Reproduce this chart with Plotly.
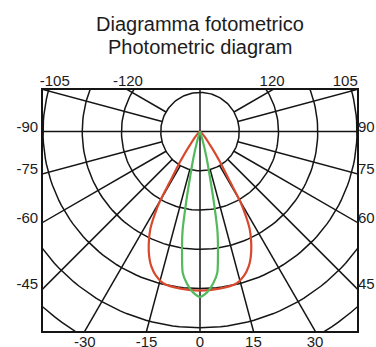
import numpy as np
import plotly.graph_objects as go

# candela grid: ring values and spoke angles (deg from nadir)
rings = [1, 2, 3, 4, 5, 6, 7]
spokes = [-120, -105, -75, -60, -45, -30, -15, 15, 30, 45, 60, 75, 105, 120]
through_lines = [0, 90, 180, 270]

# red plane (half curve, symmetric)
red_angle = [0, 7, 13.5, 17, 20, 22, 24.5, 27, 28.5, 30, 31, 33.5, 37, 40]
red_value = [4.05, 4.03, 3.98, 3.84, 3.64, 3.45, 3.15, 2.79, 2.45, 2.03, 1.47, 0.92, 0.42, 0]

# green plane (half curve, symmetric)
green_angle = [0, 2.5, 5, 7, 8.5, 10, 11, 12, 14, 16, 18]
green_value = [4.21, 4.10, 3.88, 3.62, 3.10, 2.55, 1.90, 1.32, 0.70, 0.30, 0]

bottom_labels = [-30, -15, 0, 15, 30]
side_labels = [90, 75, 60, 45]
top_labels = [120, 105]

X_HALF = 4.0
Y_TOP = 1.06
Y_BOT = -5.08
LABEL_INSET = 0.3

FONT = "Liberation Sans, Arial, sans-serif"


def to_xy(gamma, r):
    g = np.radians(np.asarray(gamma, dtype=float))
    r = np.asarray(r, dtype=float)
    return r * np.sin(g), -r * np.cos(g)


def mirror(angle, value):
    a = [-v for v in angle[::-1]] + list(angle[1:])
    v = list(value[::-1]) + list(value[1:])
    return a, v


# grid traces
gx, gy = [], []
theta = np.arange(0, 361, 2)
for r in rings:
    x, y = to_xy(theta, np.full(theta.shape, r))
    gx += list(x) + [None]
    gy += list(y) + [None]
for a in spokes:
    x, y = to_xy([a, a], [rings[0], 12])
    gx += list(x) + [None]
    gy += list(y) + [None]
for a in through_lines:
    x, y = to_xy([a, a], [0, 12])
    gx += list(x) + [None]
    gy += list(y) + [None]

fig = go.Figure()
fig.add_trace(go.Scatter(x=gx, y=gy, mode='lines', line=dict(color='#151515', width=1.5),
                         hoverinfo='skip', showlegend=False))

ra, rv = mirror(red_angle, red_value)
rx, ry = to_xy(ra, rv)
fig.add_trace(go.Scatter(x=rx, y=ry, mode='lines', line=dict(color='#d8482c', width=2.2, shape='spline', smoothing=0.6),
                         showlegend=False))

ga, gv = mirror(green_angle, green_value)
gxx, gyy = to_xy(ga, gv)
fig.add_trace(go.Scatter(x=gxx, y=gyy, mode='lines', line=dict(color='#52b95c', width=2.2, shape='spline', smoothing=0.6),
                         showlegend=False, xaxis='x2', yaxis='y2'))

# tick positions where the spokes meet the frame
bottom_pos = [abs(Y_BOT) * np.tan(np.radians(a)) for a in bottom_labels]
side_pos = [-X_HALF / np.tan(np.radians(a)) if a != 90 else 0.0 for a in side_labels]
top_pos, top_text = [], []
for a in top_labels:
    p = min(Y_TOP / np.tan(np.radians(a - 90)), X_HALF - LABEL_INSET)
    top_pos += [-p, p]
    top_text += ['-%d' % a, '%d' % a]

tickfont = dict(family=FONT, size=15, color='#1c1c1c')
fig.update_layout(
    width=376, height=347,
    margin=dict(l=43, r=19, t=90, b=16),
    paper_bgcolor='white', plot_bgcolor='white',
    xaxis=dict(range=[-X_HALF, X_HALF], tickvals=bottom_pos, ticktext=[str(v) for v in bottom_labels],
               showgrid=False, zeroline=False, showline=True, mirror=True, linecolor='#151515', linewidth=1.6,
               ticks='', tickfont=tickfont, ticklabelstandoff=-4, automargin=False, fixedrange=True),
    yaxis=dict(range=[Y_BOT, Y_TOP], tickvals=side_pos, ticktext=['-%d' % v for v in side_labels],
               showgrid=False, zeroline=False, showline=True, mirror=True, linecolor='#151515', linewidth=1.6,
               ticks='', tickfont=tickfont, ticklabelshift=-5, automargin=False, fixedrange=True),
    xaxis2=dict(range=[-X_HALF, X_HALF], overlaying='x', side='top', tickvals=top_pos, ticktext=top_text,
                showgrid=False, zeroline=False, showline=False, ticks='', tickfont=tickfont, automargin=False),
    yaxis2=dict(range=[Y_BOT, Y_TOP], overlaying='y', side='right', tickvals=side_pos,
                ticktext=['%d' % v for v in side_labels], showgrid=False, zeroline=False, showline=False,
                ticks='', tickfont=tickfont, ticklabelshift=-5, automargin=False),
    annotations=[
        dict(text='Diagramma fotometrico', xref='paper', yref='paper', x=0.5, y=1.274, showarrow=False,
             xanchor='center', yanchor='middle', font=dict(family=FONT, size=20, color='#1c1c1c')),
        dict(text='Photometric diagram', xref='paper', yref='paper', x=0.5, y=1.178, showarrow=False,
             xanchor='center', yanchor='middle', font=dict(family=FONT, size=20, color='#1c1c1c')),
    ],
)

# page body margin off so the figure fills the window exactly
fig.write_html("out.html", config={'displayModeBar': False},
               post_script="document.body.style.margin='0';document.body.style.overflow='hidden';")
